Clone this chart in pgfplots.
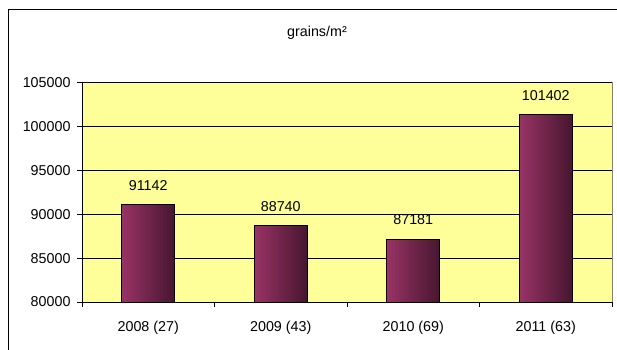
\documentclass[border=0pt]{standalone}
\usepackage{fontspec}
\setmainfont{Liberation Sans}
\usepackage{pgfplots}
\pgfplotsset{compat=1.18}
\definecolor{plotbg}{RGB}{255,255,153}
\definecolor{barlight}{RGB}{153,51,102}
\definecolor{bardark}{RGB}{70,22,46}
\pgfplotsset{yearbar/.style={draw=black, line width=0.8bp,
    left color=barlight, right color=bardark}}
\begin{document}
\begin{tikzpicture}[x=1bp,y=1bp,font=\fontsize{14.3bp}{16bp}\selectfont]
\useasboundingbox (0,0) rectangle (617,349);
% chart frame
\draw[line width=1bp] (8,-10) -- (8,339) -- (630,339);
\node at (317,316) {grains/m²};
\begin{axis}[
  at={(82bp,47bp)}, anchor=south west,
  scale only axis, width=530bp, height=219.3bp,
  xmin=-0.5, xmax=3.5, ymin=80000, ymax=105000,
  xtick={-0.5,0.5,1.5,2.5,3.5},
  x tick label as interval,
  xticklabels={2008 (27),2009 (43),2010 (69),2011 (63)},
  xticklabel style={yshift=-11bp},
  ytick={80000,85000,...,105000},
  yticklabel style={xshift=-3bp},
  scaled y ticks=false,
  /pgf/number format/fixed,
  /pgf/number format/precision=0,
  /pgf/number format/1000 sep={},
  /pgf/number format/assume math mode=true,
  axis lines*=left,
  axis line style={black, line width=0.8bp},
  axis background/.style={fill=plotbg, draw=gray, line width=0.8bp},
  tick align=outside, major tick length=5bp,
  tick style={black, line width=0.8bp},
  ymajorgrids, grid style={black, line width=0.7bp},
  ybar, bar width=53bp, bar shift=0pt,
  nodes near coords,
  every node near coord/.append style={inner sep=0pt, yshift=13.5bp, black},
]
% one plot per year so that each bar carries its own shading
\addplot[yearbar] coordinates {(0,91142)};
\addplot[yearbar] coordinates {(1,88740)};
\addplot[yearbar] coordinates {(2,87181)};
\addplot[yearbar] coordinates {(3,101402)};
\end{axis}
\end{tikzpicture}
\end{document}
